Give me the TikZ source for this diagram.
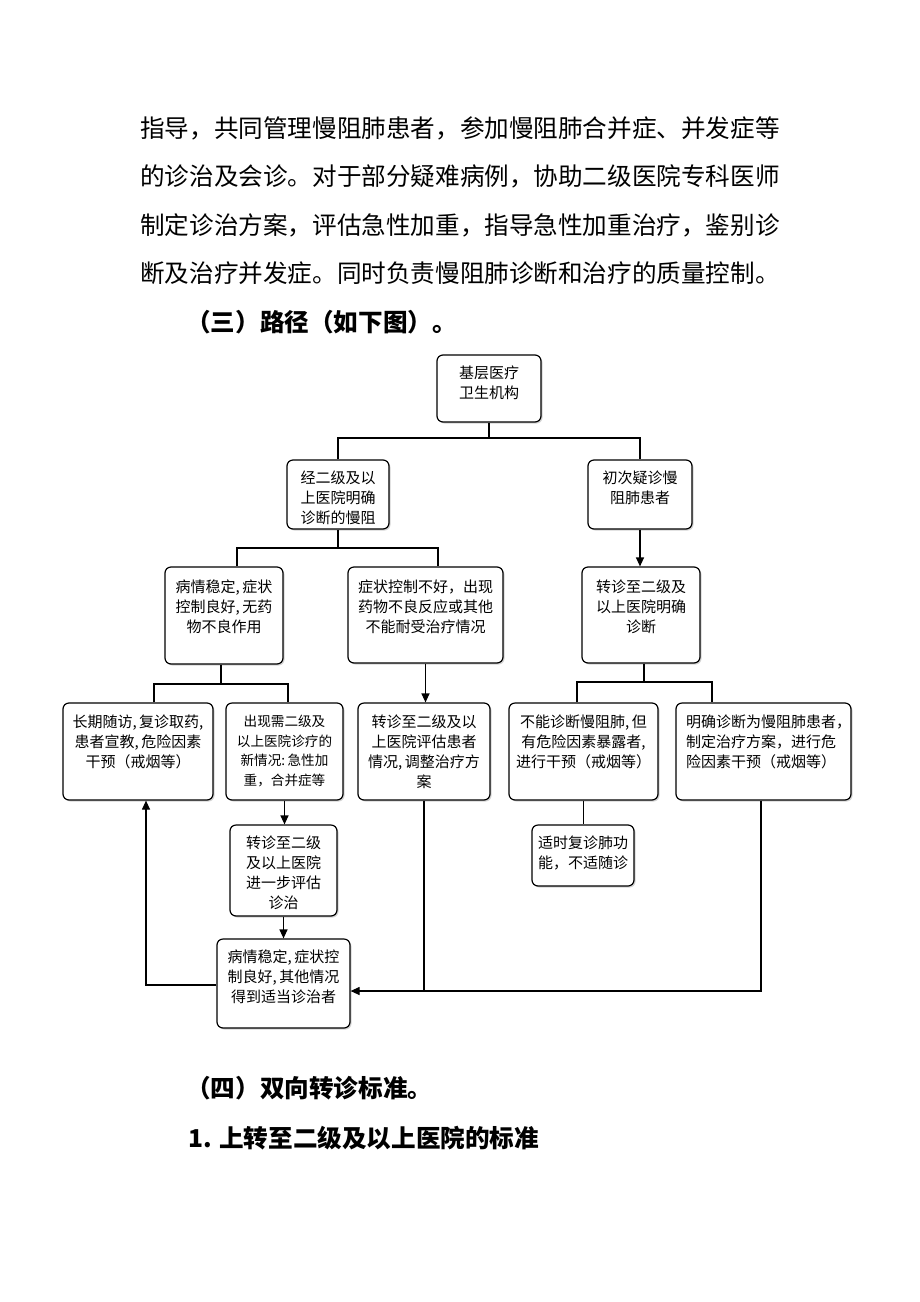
\documentclass[tikz,border=0pt]{standalone}
\usepackage{fontspec}
\setmainfont{Noto Sans CJK SC}
\usetikzlibrary{arrows.meta,shadows,calc}
\newcommand{\nc}{,\hspace{2.5pt}}
\begin{document}
\begin{tikzpicture}[x=1pt,y=-1pt,
  box/.style={draw, line width=1.2pt, rounded corners=6pt, fill=white,
    drop shadow={opacity=0.35,shadow xshift=1.5pt,shadow yshift=-1.5pt}, inner sep=0pt},
  txt/.style={inner sep=0pt, align=center, anchor=north, font=\fontsize{15}{20}\selectfont},
  txtl/.style={inner sep=0pt, align=left, anchor=north west, font=\fontsize{15}{20}\selectfont},
  body/.style={inner sep=0pt, anchor=west, font=\fontsize{24.6}{30}\selectfont},
  head/.style={inner sep=0pt, anchor=west, font=\fontsize{24.6}{30}\selectfont\bfseries},
  ln/.style={line width=1.2pt},
  arr/.style={ln, -{Triangle[length=9pt,width=8pt]}}]
\fill[white] (0,0) rectangle (920,1302);
\useasboundingbox (0,0) rectangle (920,1302);

% body text
\node[body] (p1) at (140,128) {指导，共同管理慢阻肺患者，参加慢阻肺合并症、并发症等};
\node[body] (p2) at (140,176.5) {的诊治及会诊。对于部分疑难病例，协助二级医院专科医师};
\node[body] (p3) at (140,225) {制定诊治方案，评估急性加重，指导急性加重治疗，鉴别诊};
\node[body] (p4) at (140,273) {断及治疗并发症。同时负责慢阻肺诊断和治疗的质量控制。};
\node[head] (h3) at (186,322) {（三）路径（如下图）。};
\node[head] (h4) at (186,1088) {（四）双向转诊标准。};
\node[head] (h5) at (188,1138) {1. 上转至二级及以上医院的标准};

% boxes
\node[box, minimum width=104, minimum height=67] (bA) at (489,388.5) {};
\node[box, minimum width=102, minimum height=69] (bB) at (338,494.5) {};
\node[box, minimum width=104, minimum height=69] (bC) at (640,494.5) {};
\node[box, minimum width=118, minimum height=96] (bD) at (641,615) {};
\node[box, minimum width=155, minimum height=96] (bE) at (425.5,615) {};
\node[box, minimum width=118, minimum height=97] (bF) at (224,615.5) {};
\node[box, minimum width=150, minimum height=97] (bG) at (138,751.5) {};
\node[box, minimum width=117, minimum height=97] (bH) at (284.5,751.5) {};
\node[box, minimum width=132, minimum height=97] (bI) at (424,751.5) {};
\node[box, minimum width=149, minimum height=97] (bJ) at (583.5,751.5) {};
\node[box, minimum width=175, minimum height=97] (bK) at (763.5,751.5) {};
\node[box, minimum width=102, minimum height=61] (bL) at (583,855.5) {};
\node[box, minimum width=107, minimum height=91] (bM) at (283.5,870.5) {};
\node[box, minimum width=133, minimum height=89] (bN) at (283.5,983.5) {};

% box texts
\node[txt] (tA) at (489,365.5) {基层医疗\\卫生机构};
\node[txt] (tB) at (338,470.5) {经二级及以\\上医院明确\\诊断的慢阻};
\node[txt] (tC) at (640,470.5) {初次疑诊慢\\阻肺患者};
\node[txt] (tD) at (641,579.5) {转诊至二级及\\以上医院明确\\诊断};
\node[txt] (tE) at (425.5,579.5) {症状控制不好，出现\\药物不良反应或其他\\不能耐受治疗情况};
\node[txt] (tF) at (224,579.5) {病情稳定\nc 症状\\控制良好\nc 无药\\物不良作用};
\node[txt] (tG) at (138,714.5) {长期随访\nc 复诊取药,\\患者宣教\nc 危险因素\\干预（戒烟等）};
\node[txt, font=\fontsize{13.6}{19.5}\selectfont] (tH) at (284.5,715) {出现需二级及\\以上医院诊疗的\\新情况:\hspace{2.5pt}急性加\\重，合并症等};
\node[txt] (tI) at (424,714.5) {转诊至二级及以\\上医院评估患者\\情况\nc 调整治疗方\\案};
\node[txt] (tJ) at (583.5,714.5) {不能诊断慢阻肺\nc 但\\有危险因素暴露者,\\进行干预（戒烟等）};
\node[txtl] (tK) at (686,714.5) {明确诊断为慢阻肺患者，\\制定治疗方案，进行危\\险因素干预（戒烟等）};
\node[txt] (tL) at (583,835.5) {适时复诊肺功\\能，不适随诊};
\node[txt] (tM) at (283.5,835.5) {转诊至二级\\及以上医院\\进一步评估\\诊治};
\node[txt] (tN) at (283.5,949.5) {病情稳定\nc 症状控\\制良好\nc 其他情况\\得到适当诊治者};

% connectors
\coordinate (jA) at (489,438);
\draw[ln] (bA.south) -- (jA);
\draw[ln] (bB.north) |- (jA) -| (bC.north);
\draw[arr] (bC.south) -- (bC.south |- bD.north);

\coordinate (jB) at (338,548);
\draw[ln] (bB.south) -- (jB);
\draw[ln] ([xshift=13pt]bF.north) |- (jB) -| ([xshift=12.5pt]bE.north);
\draw[arr] (bE.south) -- (bE.south |- bI.north);

\coordinate (jF) at (221,684);
\draw[ln] ([xshift=-3pt]bF.south) -- (jF);
\draw[ln] ([xshift=16pt]bG.north) |- (jF) -| ([xshift=3.5pt]bH.north);

\coordinate (jD) at (644,682);
\draw[ln] ([xshift=3pt]bD.south) -- (jD);
\draw[ln] ([xshift=-6.5pt]bJ.north) |- (jD) -| ([xshift=-51.5pt]bK.north);
\draw[ln] (bJ.south) -- (bJ.south |- bL.north);

\draw[arr] (bH.south) -- (bH.south |- bM.north);
\draw[arr] (bM.south) -- (bN.north);

\coordinate (jN) at (146,985);
\draw[arr] (bN.west |- jN) -- (jN) -- (jN |- bG.south);

\coordinate (jI) at (425,991);
\draw[arr] (bI.south) -- (bI.south |- jI) -- (bN.east |- jI);
\draw[ln] ([xshift=-2.5pt]bK.south) |- (jI);
\end{tikzpicture}
\end{document}
